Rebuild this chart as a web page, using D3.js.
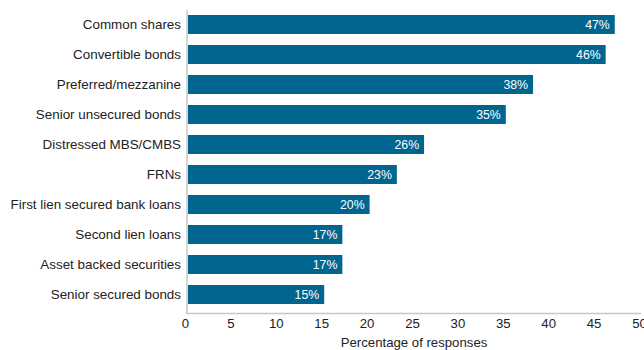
<!DOCTYPE html>
<html>
<head>
<meta charset="utf-8">
<script src="https://cdn.jsdelivr.net/npm/d3@7"></script>
<style>
  html, body { margin: 0; padding: 0; background: #fff; }
  svg { display: block; font-family: "Liberation Sans", Arial, sans-serif; }
</style>
</head>
<body>
<svg id="chart" width="644" height="350"></svg>
<script>
// Share of responses by asset type
const categories = [
  "Common shares",
  "Convertible bonds",
  "Preferred/mezzanine",
  "Senior unsecured bonds",
  "Distressed MBS/CMBS",
  "FRNs",
  "First lien secured bank loans",
  "Second lien loans",
  "Asset backed securities",
  "Senior secured bonds"
];
const values = [47, 46, 38, 35, 26, 23, 20, 17, 17, 15];
const xTicks = [0, 5, 10, 15, 20, 25, 30, 35, 40, 45, 50];
const xTitle = "Percentage of responses";

const svg = d3.select("#chart");
const barColor = "#00668f";
const axisColor = "#c8c8c8";
const textColor = "#222";

const x = d3.scaleLinear().domain([0, 50]).range([188, 642]);
const y = d3.scaleBand().domain(categories).range([4, 315]).padding(0.367);

// bars
svg.append("g").selectAll("rect")
  .data(categories)
  .join("rect")
  .attr("x", x(0))
  .attr("y", d => y(d))
  .attr("width", (d, i) => x(values[i]) - x(0))
  .attr("height", y.bandwidth())
  .attr("fill", barColor);

// value labels inside bar ends
svg.append("g").selectAll("text")
  .data(categories)
  .join("text")
  .attr("x", (d, i) => x(values[i]) - 5)
  .attr("y", d => y(d) + y.bandwidth() / 2)
  .attr("dy", "0.36em")
  .attr("text-anchor", "end")
  .attr("font-size", 12.3)
  .attr("fill", "#fff")
  .text((d, i) => values[i] + "%");

// category axis
const yAxis = svg.append("g")
  .attr("transform", `translate(${x(0) - 1},0)`)
  .call(d3.axisLeft(y).tickSize(0).tickPadding(6));
yAxis.select(".domain").remove();
yAxis.selectAll("text")
  .attr("font-size", 13.4)
  .attr("fill", textColor)
  .attr("font-family", "Liberation Sans, Arial, sans-serif");

// value axis
const xAxis = svg.append("g")
  .attr("transform", "translate(0,314)")
  .call(d3.axisBottom(x).tickValues(xTicks).tickSize(0).tickPadding(5));
xAxis.select(".domain").remove();
xAxis.selectAll("text")
  .attr("font-size", 13.2)
  .attr("dx", -3)
  .attr("fill", textColor)
  .attr("font-family", "Liberation Sans, Arial, sans-serif");

// axis lines
svg.append("line")
  .attr("x1", x(0) - 1).attr("x2", x(0) - 1)
  .attr("y1", 10).attr("y2", 314)
  .attr("stroke", axisColor).attr("stroke-width", 1.5);
svg.append("line")
  .attr("x1", x(0) - 1.75).attr("x2", 641)
  .attr("y1", 313.5).attr("y2", 313.5)
  .attr("stroke", axisColor).attr("stroke-width", 1.5);

// axis title
svg.append("text")
  .attr("x", 414)
  .attr("y", 347)
  .attr("text-anchor", "middle")
  .attr("font-size", 13.2)
  .attr("fill", textColor)
  .text(xTitle);
</script>
</body>
</html>
